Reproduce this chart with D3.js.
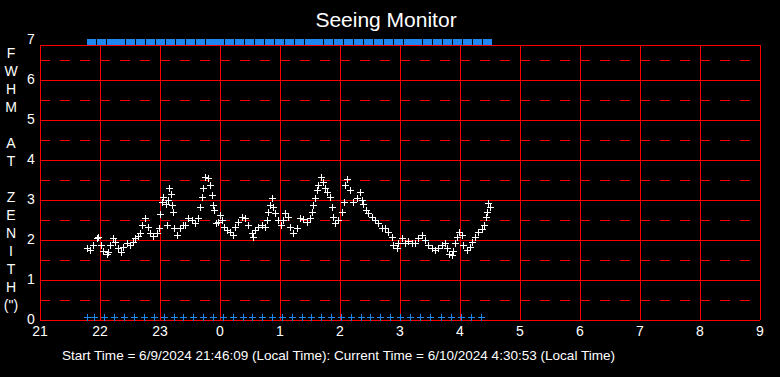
<!DOCTYPE html>
<html>
<head>
<meta charset="utf-8">
<script src="https://cdn.jsdelivr.net/npm/d3@7"></script>
<style>
    html, body { margin: 0; padding: 0; background: #000; }
    svg { display: block; font-family: "Liberation Sans", Arial, sans-serif; }
</style>
</head>
<body>
<div id="chart"></div>
<script>
// minutes after 21:00 local time, FWHM in arcsec
const fwhmMinutes = [47, 50, 53, 57, 58, 61, 63, 67, 68, 70, 73, 75, 78, 81, 83, 87, 90, 93, 95, 98,
    100, 102, 105, 108, 110, 113, 117, 119, 120, 122, 123, 126, 127, 128, 129, 131, 132, 133, 134, 137,
    140, 143, 145, 148, 152, 155, 158, 160, 162, 163, 165, 168, 170, 172, 173, 174, 176, 178, 180, 182,
    184, 187, 190, 193, 195, 198, 202, 205, 208, 212, 213, 215, 218, 222, 225, 227, 228, 230, 232, 233,
    235, 238, 241, 243, 245, 248, 250, 253, 257, 260, 263, 267, 270, 272, 273, 275, 277, 278, 281, 283,
    285, 287, 290, 292, 293, 295, 298, 302, 304, 305, 307, 310, 313, 317, 320, 322, 323, 326, 328, 332,
    335, 338, 342, 345, 348, 352, 353, 357, 358, 362, 365, 368, 372, 375, 378, 382, 385, 388, 392, 395,
    398, 402, 405, 407, 409, 412, 413, 415, 417, 419, 422, 423, 427, 430, 432, 435, 438, 442, 444, 446,
    447, 448, 450];
const fwhmValues = [1.79, 1.75, 1.87, 2.04, 2.08, 1.87, 1.72, 1.64, 1.70, 1.87, 2.06, 1.96, 1.79, 1.71, 1.83, 1.92, 1.87, 1.96, 2.06, 2.11,
    2.17, 2.37, 2.56, 2.33, 2.17, 2.11, 2.17, 2.31, 2.64, 2.96, 3.08, 2.89, 2.37, 3.00, 3.29, 3.14, 2.87, 2.71, 2.29, 2.12,
    2.29, 2.37, 2.37, 2.54, 2.50, 2.42, 2.54, 2.83, 3.08, 3.31, 3.58, 3.54, 3.37, 3.12, 2.87, 2.75, 2.42, 2.46, 2.62, 2.50,
    2.33, 2.25, 2.21, 2.12, 2.33, 2.46, 2.58, 2.54, 2.37, 2.17, 2.08, 2.25, 2.33, 2.37, 2.33, 2.50, 2.71, 2.87, 3.04, 2.83,
    2.67, 2.50, 2.37, 2.50, 2.67, 2.58, 2.33, 2.17, 2.29, 2.54, 2.52, 2.46, 2.54, 2.71, 2.87, 3.04, 3.25, 3.37, 3.58, 3.46,
    3.29, 3.21, 3.08, 2.83, 2.58, 2.42, 2.50, 2.71, 2.94, 3.37, 3.52, 3.25, 2.96, 3.04, 3.19, 3.00, 2.89, 2.75, 2.67, 2.58,
    2.50, 2.42, 2.29, 2.31, 2.21, 2.08, 1.87, 1.79, 1.92, 2.04, 1.92, 1.98, 1.92, 1.92, 2.04, 2.12, 2.00, 1.87, 1.79, 1.75,
    1.79, 1.87, 1.92, 1.79, 1.64, 1.62, 1.72, 1.92, 2.08, 2.21, 2.12, 1.87, 1.75, 1.83, 1.96, 2.08, 2.21, 2.27, 2.37, 2.58,
    2.71, 2.92, 2.83];

// status markers (blue) along the top and bottom edges
const topMarkMinutes = [47, 57, 67, 76, 86, 96, 106, 116, 126, 136, 146, 156, 166, 175, 185, 195, 205, 215, 225, 235,
    245, 255, 265, 274, 284, 294, 304, 314, 324, 334, 344, 354, 364, 373, 383, 393, 403, 413, 423, 433, 443];
const bottomMarkMinutes = [47, 54, 64, 74, 84, 94, 104, 114, 124, 134, 143, 153, 163, 173, 183, 193, 203, 212, 222, 232,
    242, 252, 262, 271, 281, 291, 301, 311, 321, 330, 340, 350, 360, 370, 380, 390, 401, 411, 421, 431, 441];

const hourTicks = [0, 60, 120, 180, 240, 300, 360, 420, 480, 540, 600, 660, 720];
const hourLabels = ['21', '22', '23', '0', '1', '2', '3', '4', '5', '6', '7', '8', '9'];
const yTicks = [0, 1, 2, 3, 4, 5, 6, 7];
const yHalfTicks = [0.5, 1.5, 2.5, 3.5, 4.5, 5.5, 6.5];
const yTitle = ['F', 'W', 'H', 'M', '', 'A', 'T', '', 'Z', 'E', 'N', 'I', 'T', 'H', '(")'];
const footer = 'Start Time = 6/9/2024 21:46:09 (Local Time): Current Time = 6/10/2024 4:30:53 (Local Time)';

const width = 780, height = 377;
const margin = { left: 40, right: 20, top: 40, bottom: 57 };

const x = d3.scaleLinear().domain([0, 720]).range([margin.left, width - margin.right]);
const y = d3.scaleLinear().domain([0, 7]).range([height - margin.bottom, margin.top]);
const frameTop = y(7) + 5;

const svg = d3.select('#chart').append('svg')
    .attr('width', width)
    .attr('height', height);

svg.append('rect').attr('width', width).attr('height', height).attr('fill', '#000');

// grid
const grid = svg.append('g').attr('shape-rendering', 'crispEdges').attr('stroke', '#ff0000');
grid.selectAll('line.half')
    .data(yHalfTicks)
    .join('line')
    .classed('half', true)
    .attr('x1', x(0)).attr('x2', x(720))
    .attr('y1', d => Math.round(y(d)) + 0.5).attr('y2', d => Math.round(y(d)) + 0.5)
    .attr('stroke-dasharray', '10,10');
grid.selectAll('line.hz')
    .data(yTicks.filter(d => d < 7))
    .join('line')
    .classed('hz', true)
    .attr('x1', x(0)).attr('x2', x(720))
    .attr('y1', d => Math.round(y(d)) + 0.5).attr('y2', d => Math.round(y(d)) + 0.5);
grid.append('line')
    .attr('x1', x(0)).attr('x2', x(720))
    .attr('y1', frameTop + 0.5).attr('y2', frameTop + 0.5);
grid.selectAll('line.vt')
    .data(hourTicks)
    .join('line')
    .classed('vt', true)
    .attr('x1', d => Math.round(x(d)) + 0.5).attr('x2', d => Math.round(x(d)) + 0.5)
    .attr('y1', frameTop).attr('y2', y(0));

// tick labels
svg.append('g')
    .selectAll('text')
    .data(yTicks)
    .join('text')
    .attr('x', 31)
    .attr('y', d => y(d) + 4)
    .attr('text-anchor', 'middle')
    .attr('fill', '#fff')
    .style('font-size', '14px')
    .text(d => d);

svg.append('g')
    .selectAll('text')
    .data(hourTicks)
    .join('text')
    .attr('x', d => x(d))
    .attr('y', y(0) + 16)
    .attr('text-anchor', 'middle')
    .attr('fill', '#fff')
    .style('font-size', '14px')
    .text((d, i) => hourLabels[i]);

// stacked y title
svg.append('g')
    .selectAll('text')
    .data(yTitle)
    .join('text')
    .attr('x', 11)
    .attr('y', (d, i) => 58 + i * 18)
    .attr('text-anchor', 'middle')
    .attr('fill', '#fff')
    .style('font-size', '14px')
    .text(d => d);

svg.append('text')
    .attr('x', 386)
    .attr('y', 27)
    .attr('text-anchor', 'middle')
    .attr('fill', '#fff')
    .style('font-size', '21px')
    .text('Seeing Monitor');

svg.append('text')
    .attr('x', 62)
    .attr('y', 360)
    .attr('fill', '#fff')
    .style('font-size', '13px')
    .attr('textLength', 553)
    .attr('lengthAdjust', 'spacingAndGlyphs')
    .text(footer);

// blue status marks
svg.append('g')
    .selectAll('rect')
    .data(topMarkMinutes)
    .join('rect')
    .attr('x', d => Math.round(x(d)))
    .attr('y', y(7) - 1)
    .attr('width', 9)
    .attr('height', 6)
    .attr('fill', '#1e88f0');

const plus = 'M-3,0H4M0.5,-3.5V3.5';
svg.append('g')
    .attr('shape-rendering', 'crispEdges')
    .selectAll('path')
    .data(bottomMarkMinutes)
    .join('path')
    .attr('transform', d => `translate(${Math.round(x(d))},${y(0) - 2.5})`)
    .attr('d', plus)
    .attr('stroke', '#1e88f0')
    .attr('fill', 'none');

// FWHM points
const pts = fwhmMinutes.map((m, i) => [m, fwhmValues[i]]);
svg.append('g')
    .attr('shape-rendering', 'crispEdges')
    .selectAll('path')
    .data(pts)
    .join('path')
    .attr('transform', d => `translate(${Math.round(x(d[0]))},${Math.round(y(d[1])) + 0.5})`)
    .attr('d', plus)
    .attr('stroke', '#fff')
    .attr('fill', 'none');
</script>
</body>
</html>
